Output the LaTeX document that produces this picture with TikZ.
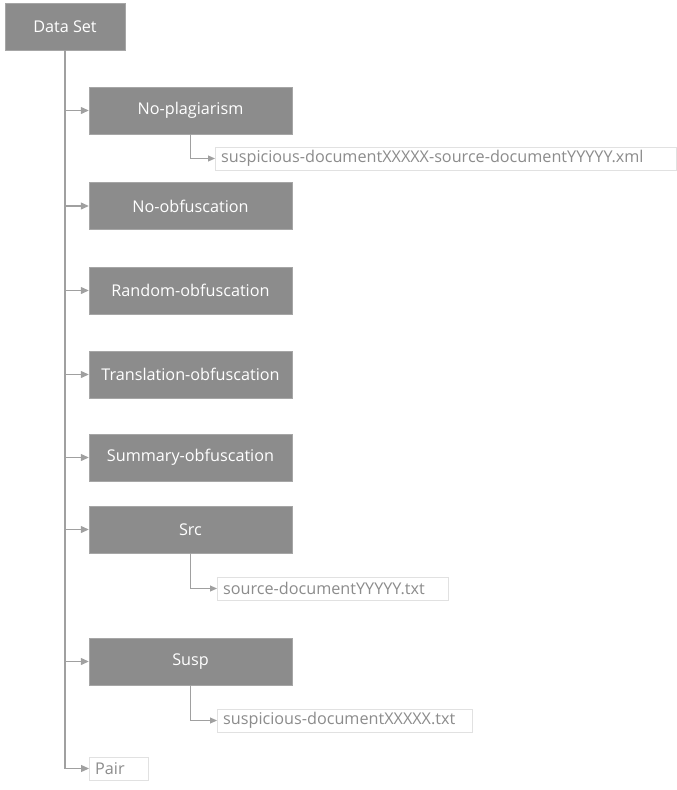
\documentclass[tikz,border=0pt]{standalone}
\usepackage{fontspec}
\setmainfont{Open Sans}
\usetikzlibrary{arrows.meta, positioning}
\definecolor{boxgray}{RGB}{140, 140, 140}
\definecolor{edgegray}{RGB}{166, 166, 166}
\definecolor{linegray}{RGB}{160, 160, 160}
\definecolor{leafedge}{RGB}{225, 225, 225}
\tikzset{
  folder/.style={draw=edgegray, fill=boxgray, text=white, minimum width=203pt, minimum height=47pt, inner sep=0pt, font=\fontsize{16.2}{19}\selectfont},
  leaf/.style={draw=leafedge, fill=white, text=boxgray, minimum height=23pt, inner xsep=6pt, inner ysep=0pt, align=left, font=\fontsize{16.2}{19}\selectfont},
  conn/.style={draw=linegray, line width=1.2pt, -{Triangle[length=8pt, width=7pt]}},
  subconn/.style={draw=linegray, line width=0.9pt, -{Triangle[length=7pt, width=6pt]}}
}
\begin{document}
\begin{tikzpicture}[x=1pt, y=-1pt]
  \useasboundingbox (0,0) rectangle (677,790);

  % Root
  \node[folder, minimum width=120pt] (dataset) at (65, 26.5) {Data Set};

  % Folders
  \node[folder] (noplag) at (190.5, 110.5) {No-plagiarism};
  \node[folder] (noobf) at (190.5, 206) {No-obfuscation};
  \node[folder] (randobf) at (190.5, 290.5) {Random-obfuscation};
  \node[folder] (transobf) at (190.5, 374.5) {Translation-obfuscation};
  \node[folder] (summobf) at (190.5, 457.5) {Summary-obfuscation};
  \node[folder] (src) at (190.5, 529.5) {Src};
  \node[folder] (susp) at (190.5, 661.5) {Susp};
  \node[leaf, text width=47pt, anchor=west] (pair) at (89, 768.5) {Pair};

  % Files
  \node[leaf, text width=449pt, anchor=west] (xmlfile) at (215, 158.5) {suspicious-documentXXXXX-source-documentYYYYY.xml};
  \node[leaf, text width=219pt, anchor=west] (srcfile) at (217, 588.5) {source-documentYYYYY.txt};
  \node[leaf, text width=243pt, anchor=west] (suspfile) at (217, 720.5) {suspicious-documentXXXXX.txt};

  % Tree lines
  \foreach \child in {noplag, noobf, randobf, transobf, summobf, src, susp, pair}
    \draw[conn] (dataset.south) |- (\child.west);
  \draw[subconn] (noplag.south) |- (xmlfile.west);
  \draw[subconn] (src.south) |- (srcfile.west);
  \draw[subconn] (susp.south) |- (suspfile.west);
\end{tikzpicture}
\end{document}
